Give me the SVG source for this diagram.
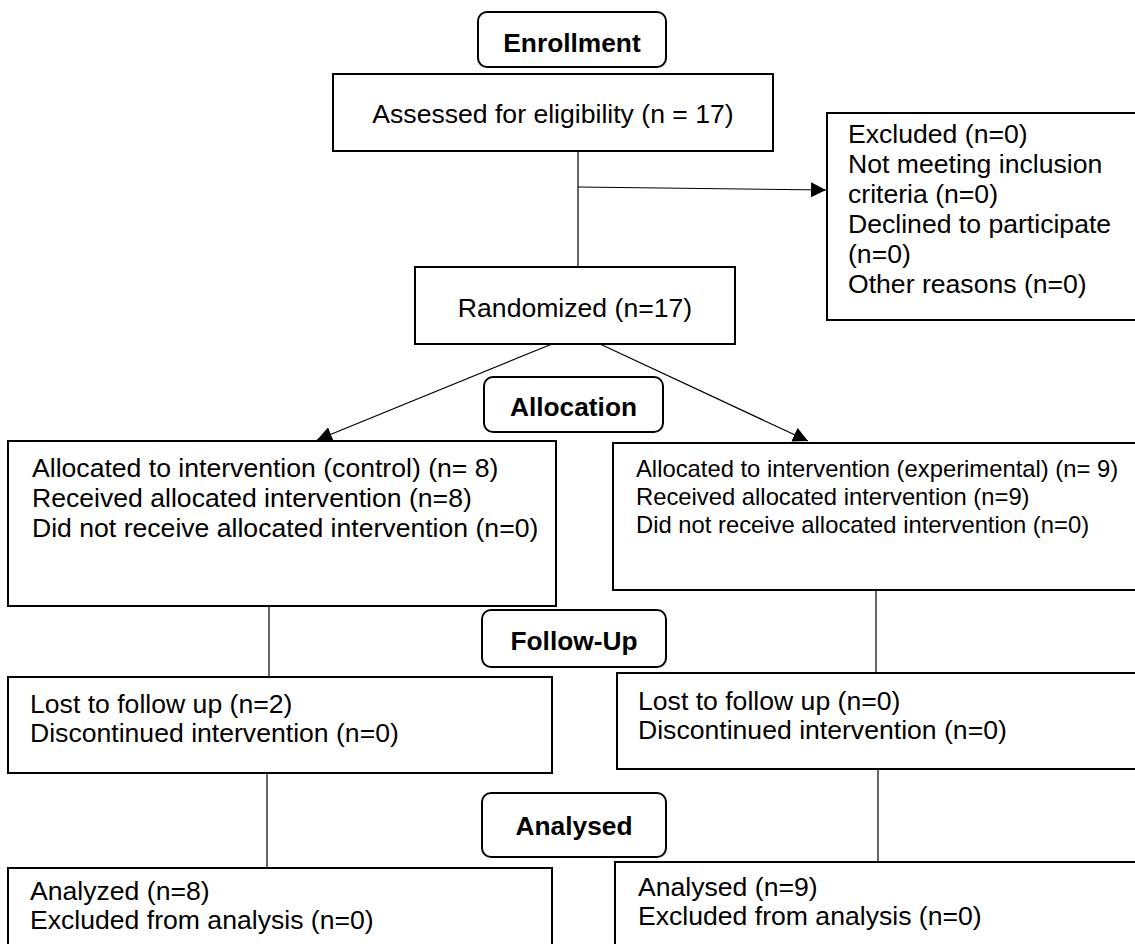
<svg xmlns="http://www.w3.org/2000/svg" width="1135" height="944" viewBox="0 0 1135 944">
<style>
.box{fill:#fff;stroke:#000;stroke-width:2}
.hdr{fill:#fff;stroke:#000;stroke-width:2}
.t{font-family:"Liberation Sans",Arial,sans-serif;font-size:26.6px;fill:#000}
.ts{font-family:"Liberation Sans",Arial,sans-serif;font-size:23.8px;fill:#000}
.b{font-family:"Liberation Sans",Arial,sans-serif;font-size:26.3px;font-weight:bold;fill:#000}
.c{stroke:#000;stroke-width:1.2;fill:none}
</style>
<defs>
<marker id="ah" viewBox="0 0 10 10" refX="10" refY="5" markerWidth="15" markerHeight="15" markerUnits="userSpaceOnUse" orient="auto">
<path d="M0,0 L10,5 L0,10 z" fill="#000"/>
</marker>
</defs>
<rect width="1135" height="944" fill="#fff"/>
<g id="connectors">
<line class="c" x1="578" y1="151" x2="578" y2="267"/>
<line class="c" x1="578" y1="187" x2="826" y2="190" marker-end="url(#ah)"/>
<line class="c" x1="552" y1="344" x2="317" y2="440" marker-end="url(#ah)"/>
<line class="c" x1="600" y1="344" x2="808" y2="441" marker-end="url(#ah)"/>
<line class="c" x1="269" y1="606" x2="269" y2="677"/>
<line class="c" x1="876" y1="590" x2="876" y2="673"/>
<line class="c" x1="267" y1="773" x2="267" y2="868"/>
<line class="c" x1="878" y1="769" x2="878" y2="862"/>
</g>
<g id="enrollment">
<rect class="hdr" x="478" y="12" width="188" height="55" rx="9"/>
<text class="b" x="572" y="52" text-anchor="middle">Enrollment</text>
</g>
<g id="assessed">
<rect class="box" x="333" y="74" width="440" height="77"/>
<text class="t" x="553" y="123" text-anchor="middle">Assessed for eligibility (n = 17)</text>
</g>
<g id="excluded">
<rect class="box" x="827" y="113" width="320" height="207"/>
<text class="t" x="848" y="143">Excluded (n=0)</text>
<text class="t" x="848" y="173">Not meeting inclusion</text>
<text class="t" x="848" y="203">criteria (n=0)</text>
<text class="t" x="848" y="233">Declined to participate</text>
<text class="t" x="848" y="263">(n=0)</text>
<text class="t" x="848" y="293">Other reasons (n=0)</text>
</g>
<g id="randomized">
<rect class="box" x="415" y="267" width="320" height="77"/>
<text class="t" x="575" y="317" text-anchor="middle">Randomized (n=17)</text>
</g>
<g id="allocation">
<rect class="hdr" x="484" y="377" width="179" height="55" rx="9"/>
<text class="b" x="573.5" y="416" text-anchor="middle">Allocation</text>
</g>
<g id="alloc-control">
<rect class="box" x="8" y="441" width="548" height="165"/>
<text class="t" x="32" y="477">Allocated to intervention (control) (n= 8)</text>
<text class="t" x="32" y="507">Received allocated intervention (n=8)</text>
<text class="t" x="32" y="537">Did not receive allocated intervention (n=0)</text>
</g>
<g id="alloc-experimental">
<rect class="box" x="613" y="443" width="534" height="147"/>
<text class="ts" x="636" y="477">Allocated to intervention (experimental) (n= 9)</text>
<text class="ts" x="636" y="505">Received allocated intervention (n=9)</text>
<text class="ts" x="636" y="533">Did not receive allocated intervention (n=0)</text>
</g>
<g id="followup">
<rect class="hdr" x="482" y="610" width="184" height="57" rx="9"/>
<text class="b" x="574" y="650" text-anchor="middle">Follow-Up</text>
</g>
<g id="followup-control">
<rect class="box" x="8" y="677" width="544" height="96"/>
<text class="t" x="30" y="713">Lost to follow up (n=2)</text>
<text class="t" x="30" y="742">Discontinued intervention (n=0)</text>
</g>
<g id="followup-experimental">
<rect class="box" x="617" y="673" width="530" height="96"/>
<text class="t" x="638" y="710">Lost to follow up (n=0)</text>
<text class="t" x="638" y="739">Discontinued intervention (n=0)</text>
</g>
<g id="analysed">
<rect class="hdr" x="482" y="793" width="184" height="64" rx="9"/>
<text class="b" x="574" y="835" text-anchor="middle">Analysed</text>
</g>
<g id="analysed-control">
<rect class="box" x="8" y="868" width="544" height="90"/>
<text class="t" x="30" y="900">Analyzed (n=8)</text>
<text class="t" x="30" y="929">Excluded from analysis (n=0)</text>
</g>
<g id="analysed-experimental">
<rect class="box" x="615" y="862" width="532" height="96"/>
<text class="t" x="638" y="896">Analysed (n=9)</text>
<text class="t" x="638" y="925">Excluded from analysis (n=0)</text>
</g>
</svg>
